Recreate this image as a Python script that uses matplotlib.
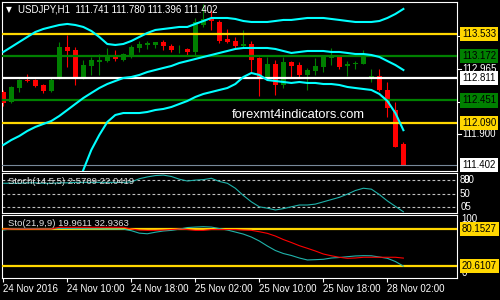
import matplotlib
matplotlib.use('Agg')
import matplotlib.pyplot as plt
import matplotlib.transforms as mtransforms
import numpy as np

plt.rcParams['font.family'] = ['Liberation Sans', 'DejaVu Sans']

# USDJPY H1, 24 Nov 2016 00:00 .. 28 Nov 04:00 (weekend skipped)
opens = [112.589, 112.427, 112.654, 112.784, 112.784, 112.703, 112.605, 112.817, 113.321, 113.273,
         112.817, 113.012, 113.077, 113.093, 113.159, 113.110, 113.159, 113.305, 113.354, 113.354,
         113.403, 113.338, 113.281, 113.289, 113.240, 113.679, 113.777, 113.728, 113.451, 113.419,
         113.338, 113.370, 113.142, 112.817, 113.045, 112.703, 113.077, 113.028, 112.866, 112.931,
         112.996, 113.142, 113.159, 113.012, 113.045, 113.045, 112.817, 112.849, 112.622, 112.296, 111.741]
highs = [112.622, 112.687, 112.801, 112.882, 112.801, 112.719, 112.833, 113.403, 113.517, 113.321,
         113.110, 113.159, 113.207, 113.305, 113.273, 113.224, 113.354, 113.419, 113.419, 113.410,
         113.435, 113.370, 113.354, 113.300, 113.793, 114.021, 113.923, 113.761, 113.614, 113.484,
         113.598, 113.419, 113.159, 113.159, 113.110, 113.159, 113.093, 113.077, 112.980, 113.142,
         113.180, 113.305, 113.175, 113.093, 113.093, 113.273, 112.963, 112.963, 112.752, 112.427, 111.780]
lows = [112.361, 112.410, 112.589, 112.752, 112.671, 112.573, 112.595, 112.800, 112.996, 112.703,
        112.800, 112.866, 112.866, 113.085, 113.093, 113.100, 113.150, 113.240, 113.289, 113.305,
        113.273, 113.240, 113.224, 113.191, 113.191, 113.647, 113.598, 113.386, 113.386, 113.305,
        113.321, 112.914, 112.524, 112.784, 112.540, 112.654, 112.817, 112.817, 112.622, 112.866,
        112.914, 113.028, 112.963, 112.849, 112.963, 113.040, 112.752, 112.605, 112.182, 111.690, 111.396]
closes = [112.410, 112.671, 112.784, 112.768, 112.687, 112.605, 112.784, 113.321, 113.256, 112.817,
          113.028, 113.110, 113.110, 113.191, 113.126, 113.207, 113.321, 113.370, 113.386, 113.403,
          113.338, 113.273, 113.289, 113.240, 113.728, 113.777, 113.744, 113.419, 113.403, 113.338,
          113.370, 113.110, 112.833, 113.045, 112.703, 113.077, 113.012, 112.866, 112.947, 113.012,
          113.175, 113.175, 112.996, 113.045, 113.061, 113.191, 112.849, 112.622, 112.329, 111.694, 111.402]

band_upper = [113.240, 113.321, 113.403, 113.484, 113.565, 113.614, 113.647, 113.679, 113.696, 113.679,
              113.647, 113.582, 113.484, 113.370, 113.354, 113.370, 113.419, 113.484, 113.549, 113.598,
              113.614, 113.630, 113.647, 113.647, 113.696, 113.744, 113.793, 113.793, 113.793, 113.777,
              113.744, 113.728, 113.728, 113.728, 113.744, 113.761, 113.761, 113.777, 113.793, 113.793,
              113.793, 113.777, 113.761, 113.744, 113.728, 113.728, 113.728, 113.744, 113.793, 113.858, 113.940]
band_mid = [111.727, 111.808, 111.873, 111.955, 112.020, 112.069, 112.117, 112.199, 112.296, 112.394,
            112.491, 112.573, 112.654, 112.719, 112.768, 112.817, 112.833, 112.866, 112.914, 112.947,
            112.980, 113.012, 113.061, 113.093, 113.126, 113.159, 113.191, 113.224, 113.256, 113.289,
            113.305, 113.305, 113.305, 113.305, 113.289, 113.256, 113.224, 113.240, 113.256, 113.256,
            113.256, 113.240, 113.240, 113.224, 113.207, 113.207, 113.191, 113.159, 113.093, 113.028, 112.947]
band_lower = [np.nan] * 9 + [
            110.995, 111.320, 111.646, 111.890, 112.101, 112.215, 112.247, 112.247, 112.247, 112.264,
            112.296, 112.313, 112.345, 112.394, 112.443, 112.508, 112.557, 112.589, 112.622, 112.654,
            112.719, 112.833, 112.898, 112.866, 112.784, 112.768, 112.752, 112.736, 112.752, 112.736,
            112.736, 112.719, 112.719, 112.703, 112.671, 112.654, 112.638, 112.622, 112.557, 112.443,
            112.247, 111.968]

stoch_main = [73, 73, 73, 74, 74, 73, 73, 74, 74, 75, 75, 75, 75, 75, 75, 75, 76, 83, 87, 90,
              91, 88, 82, 78, 80, 81, 84, 77, 73, 62, 46, 32, 21, 18, 14, 17, 21, 25, 25, 27,
              32, 37, 42, 49, 57, 62, 60, 48, 34, 22, 10]
stoch_levels = [80, 50, 20]

sto_main = [78.6, 80.5, 80.8, 81.0, 80.8, 80.5, 80.5, 81.0, 81.0, 80.8, 80.8, 80.5, 80.5, 80.2, 80.2,
            80.0, 77.5, 73.5, 72.5, 75.0, 77.0, 78.0, 80.0, 82.6, 83.4, 84.0, 83.4, 81.0, 78.6, 75.3,
            72.0, 67.2, 60.7, 52.6, 45.3, 40.4, 37.2, 33.1, 29.9, 30.4, 31.0, 33.1, 33.9, 35.2, 36.4,
            36.9, 36.7, 34.7, 32.6, 27.4, 19.96]
sto_signal = [80.2, 80.2, 80.2, 80.2, 80.2, 80.2, 80.2, 83.0, 83.0, 83.0, 83.0, 83.0, 83.0, 83.0, 83.0,
              83.0, 80.2, 78.6, 78.1, 78.1, 78.6, 79.4, 80.2, 79.4, 78.1, 78.1, 79.4, 79.4, 79.4, 79.4,
              78.6, 78.1, 75.8, 73.2, 68.8, 63.1, 58.3, 53.1, 48.9, 44.5, 39.6, 36.7, 34.3, 32.6, 33.1,
              34.3, 34.3, 34.3, 34.3, 34.3, 32.94]
sto_levels = [80.1527, 20.6107]

hlines = [113.533, 113.172, 112.811, 112.451, 112.090]
hline_colors = ['#ffd700', '#008000', '#ffffff', '#008000', '#ffd700']
bid = 111.402
price_ticks = [113.498, 112.965, 112.433, 111.900]

date_pos = [0, 8, 16, 24, 32, 40, 48]
date_labels = ['24 Nov 2016', '24 Nov 10:00', '24 Nov 18:00', '25 Nov 02:00',
               '25 Nov 10:00', '25 Nov 18:00', '28 Nov 02:00']

fig = plt.figure(figsize=(5, 3), dpi=100, facecolor='black')


def panel(top, bottom):
    a = fig.add_axes([2 / 500, 1 - bottom / 300, 455 / 500, (bottom - top) / 300])
    a.set_facecolor('black')
    for s in a.spines.values():
        s.set_color('white')
        s.set_linewidth(0.8)
    a.set_xlim(-0.16, 56.7)
    a.set_xticks([])
    a.set_yticks([])
    return a


ax = panel(2, 171)
ax_st = panel(173.3, 212.7)
ax_so = panel(215, 278)

# main chart
x = np.arange(len(opens))
o = np.array(opens)
c = np.array(closes)
cols = ['#008000' if cc >= oo else '#ff0000' for oo, cc in zip(o, c)]
ax.vlines(x, lows, highs, colors=cols, lw=0.8, zorder=2)
ax.bar(x, np.maximum(np.abs(c - o), 0.012), bottom=np.minimum(o, c), width=0.62,
       color=cols, lw=0, zorder=3)
for lv, lc in zip(hlines, hline_colors):
    ax.axhline(lv, color=lc, lw=1.6, zorder=4)
ax.axhline(bid, color='#778899', lw=0.8, zorder=4)
ax.plot(x, band_upper, color='#00ffff', lw=1.5, zorder=5)
ax.plot(x, band_mid, color='#00ffff', lw=1.5, zorder=5)
ax.plot(x, band_lower, color='#00ffff', lw=1.5, zorder=5)
ax.set_ylim(111.304, 114.053)

tr = mtransforms.blended_transform_factory(fig.transFigure, ax.transData)
for t in price_ticks:
    fig.add_artist(plt.Line2D([457 / 500, 461 / 500], [t, t], transform=tr, color='white', lw=0.8))
    fig.text(462 / 500, t, '%.3f' % t, transform=tr, color='white', fontsize=7, va='center')
for lv, lc in zip(hlines + [bid], hline_colors + ['#ffffff']):
    fig.text(462 / 500, lv, '%.3f' % lv, transform=tr, color='black', fontsize=7, va='center',
             bbox=dict(boxstyle='square,pad=0.22', fc=lc, ec='none'), zorder=6)

fig.text(6 / 500, 1 - 10 / 300, '\u25bc', color='white', fontsize=5.5, va='center',
         family='DejaVu Sans')
fig.text(18 / 500, 1 - 10 / 300, 'USDJPY,H1  111.741 111.780 111.396 111.402',
         color='white', fontsize=7, va='center')
fig.text(232 / 500, 1 - 115 / 300, 'forexmt4indicators.com', color='white',
         fontsize=9.3, va='center')

# Stoch(14,5,5)
for lv in stoch_levels:
    ax_st.axhline(lv, color='#c0c0c0', lw=0.8, dashes=(2.5, 2))
ax_st.plot(x, stoch_main, color='#20b2aa', lw=0.8)
ax_st.set_ylim(8, 95)
fig.text(8 / 500, 1 - 182 / 300, 'Stoch(14,5,5) 2.5709 22.0419', color='#e0e0e0',
         fontsize=6.8, va='center')
tr2 = mtransforms.blended_transform_factory(fig.transFigure, ax_st.transData)
fig.text(460 / 500, 80, '80', transform=tr2, color='white', fontsize=7, va='center')
fig.text(464 / 500, 80, '90', transform=tr2, color='white', fontsize=7, va='center')
fig.text(460 / 500, 50, '50', transform=tr2, color='white', fontsize=7, va='center')
fig.text(461 / 500, 20, '05', transform=tr2, color='white', fontsize=7, va='center')

# Sto(21,9,9)
for lv in sto_levels:
    ax_so.axhline(lv, color='#ffd700', lw=1.6, zorder=3)
ax_so.plot(x, sto_main, color='#20b2aa', lw=0.8, zorder=4)
ax_so.plot(x, sto_signal, color='#ff0000', lw=0.8, zorder=4)
ax_so.set_ylim(0.6, 103)
fig.text(8 / 500, 1 - 224 / 300, 'Sto(21,9,9) 19.9611 32.9363', color='#e0e0e0',
         fontsize=6.8, va='center')
tr3 = mtransforms.blended_transform_factory(fig.transFigure, ax_so.transData)
fig.text(461 / 500, 97, '100', transform=tr3, color='white', fontsize=7, va='center')
fig.text(462 / 500, 8, '0', transform=tr3, color='white', fontsize=7, va='center')
for lv in sto_levels:
    fig.text(462 / 500, lv, '%.4f' % lv, transform=tr3, color='black', fontsize=7, va='center',
             bbox=dict(boxstyle='square,pad=0.22', fc='#ffd700', ec='none'), zorder=6)

ax_so.set_xticks(date_pos)
ax_so.set_xticklabels(date_labels, ha='left')
ax_so.tick_params(axis='x', colors='white', length=3, width=0.8, labelsize=7, pad=1.5)

fig.savefig('out.png', dpi=100, facecolor='black')
